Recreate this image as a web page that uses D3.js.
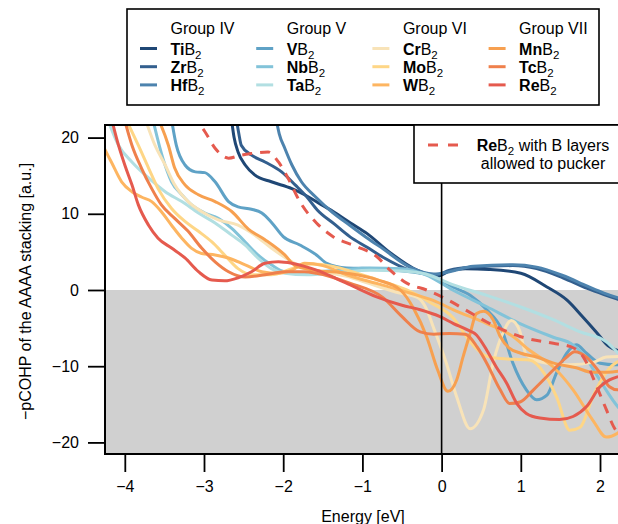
<!DOCTYPE html>
<html>
<head>
<meta charset="utf-8">
<script src="https://cdn.jsdelivr.net/npm/d3@7"></script>
<style>
  body { margin: 0; background: #fff; }
  svg text { font-family: "Liberation Sans", Arial, Helvetica, sans-serif; }
</style>
</head>
<body>
<svg width="618" height="524"></svg>
<script>
// tick labels
var xTicks = [-4, -3, -2, -1, 0, 1, 2];
var yTicks = [-20, -10, 0, 10, 20];

// legend: groups and compounds (element part shown bold)
var groups = ["Group IV", "Group V", "Group VI", "Group VII"];
var elements = [["Ti", "Zr", "Hf"], ["V", "Nb", "Ta"], ["Cr", "Mo", "W"], ["Mn", "Tc", "Re"]];
var colors = [["#1f4775", "#335f8e", "#4d83ae"], ["#5fa2c6", "#82c3d9", "#b2dfe2"],
              ["#f8e3b8", "#fed686", "#fdb561"], ["#f7a050", "#ef804c", "#e55a4e"]];

// -pCOHP curves, [energy eV, value]
var TiB2 = [[-2.66,23],[-2.62,20],[-2.57,18.1],[-2.48,16.4],[-2.36,15.1],[-2.15,14.2],[-1.89,13.3],[-1.73,12.5],[-1.55,11.4],[-1.37,10.3],[-1.15,8.8],[-0.94,7.4],[-0.65,4.9],[-0.31,2.6],[-0.05,1.8],[0.1,2.5],[0.3,2.8],[0.6,2.7],[1.0,2.2],[1.33,0.4],[1.58,-1.3],[1.78,-3.5],[1.96,-5.6],[2.1,-7.3],[2.25,-8.0],[2.4,-8.2]];
var ZrB2 = [[-2.6,23],[-2.56,20.5],[-2.53,19],[-2.4,17.7],[-2.23,16.8],[-2.02,15.5],[-1.85,13.8],[-1.7,12.2],[-1.57,10.5],[-1.36,8.7],[-1.16,7.0],[-0.94,5.6],[-0.74,4.3],[-0.4,2.6],[-0.06,2.0],[0.1,2.6],[0.4,3.0],[0.9,3.2],[1.2,2.8],[1.53,1.6],[1.84,0.2],[2.05,-0.6],[2.22,-1.2],[2.4,-1.8]];
var HfB2 = [[-2.1,23],[-2.05,20.5],[-1.98,18.6],[-1.89,16.4],[-1.77,14.2],[-1.6,12.3],[-1.38,10.2],[-1.16,8.5],[-0.95,6.9],[-0.74,5.4],[-0.4,3.0],[-0.1,2.1],[0.1,2.4],[0.4,3.1],[0.9,3.3],[1.2,3.0],[1.53,1.9],[1.84,0.5],[2.05,-0.4],[2.22,-1.0],[2.4,-1.5]];
var VB2 = [[-3.42,23],[-3.35,19.0],[-3.24,16.4],[-3.11,15.5],[-2.99,15.4],[-2.86,14.2],[-2.69,11.6],[-2.57,10.9],[-2.4,10.6],[-2.27,10.1],[-2.15,8.9],[-2.0,7.0],[-1.79,5.9],[-1.58,4.6],[-1.45,3.5],[-1.2,2.9],[-0.8,2.8],[-0.4,2.4],[-0.1,1.8],[0.14,0.4],[0.36,-0.7],[0.57,-2.6],[0.76,-5.2],[0.9,-9.6],[1.07,-13.1],[1.2,-14.4],[1.33,-13.8],[1.45,-10.9],[1.58,-8.3],[1.7,-7.2],[1.83,-8.3],[2.0,-9.6],[2.2,-9.8],[2.4,-9.6]];
var NbB2 = [[-3.66,23],[-3.52,17.3],[-3.41,14.2],[-3.28,12.5],[-3.16,11.2],[-2.99,10.1],[-2.82,9.4],[-2.65,8.1],[-2.48,6.3],[-2.32,4.6],[-2.15,3.3],[-1.98,2.4],[-1.7,2.3],[-1.3,2.6],[-0.9,2.9],[-0.5,2.8],[-0.2,2.0],[0.14,0.0],[0.57,-2.2],[0.99,-4.4],[1.41,-6.2],[1.66,-7.2],[1.8,-8.6],[1.95,-11.0],[2.1,-13.5],[2.25,-15.6],[2.4,-16.5]];
var TaB2 = [[-4.22,22.5],[-4.08,19.0],[-3.91,16.8],[-3.7,14.7],[-3.49,12.9],[-3.28,11.6],[-3.07,10.1],[-2.86,8.8],[-2.65,7.2],[-2.48,5.9],[-2.32,4.2],[-2.15,2.8],[-1.98,2.2],[-1.7,2.0],[-1.3,2.3],[-0.9,2.6],[-0.5,2.5],[-0.2,2.1],[0.14,0.7],[0.57,-0.7],[0.99,-2.2],[1.41,-3.9],[1.75,-5.5],[2.08,-6.8],[2.25,-8.5],[2.4,-10]];
var CrB2 = [[-3.76,23],[-3.62,19.0],[-3.49,16.4],[-3.37,13.8],[-3.2,11.6],[-3.03,10.3],[-2.82,9.2],[-2.57,8.5],[-2.36,7.2],[-2.15,5.5],[-1.89,3.7],[-1.73,2.8],[-1.5,2.4],[-1.2,1.8],[-0.9,0.8],[-0.57,-0.3],[-0.3,-1.0],[-0.2,-2.3],[-0.1,-5.0],[0.06,-9.6],[0.19,-14],[0.36,-18.2],[0.53,-15.7],[0.65,-9.6],[0.78,-5.5],[0.88,-4.0],[0.98,-5.2],[1.07,-8.5],[1.33,-9.6],[1.62,-9.8],[1.91,-9.5],[2.08,-8.8],[2.3,-8.7]];
var MoB2 = [[-3.99,22.5],[-3.83,19],[-3.7,16],[-3.58,13.3],[-3.41,10.7],[-3.24,9.0],[-3.07,7.7],[-2.9,6.3],[-2.74,4.6],[-2.57,2.8],[-2.4,2.0],[-2.15,2.0],[-1.89,2.8],[-1.65,3.4],[-1.37,3.1],[-1.1,2.3],[-0.74,1.1],[-0.44,0.0],[-0.15,-1.6],[0.15,-3.7],[0.36,-6.8],[0.55,-8.6],[0.74,-9.0],[1.11,-9.2],[1.3,-11.0],[1.45,-14.0],[1.62,-18.4],[1.75,-18.0],[1.91,-14.0],[2.1,-10.5],[2.25,-9.3],[2.4,-9.0]];
var WB2 = [[-4.3,19.5],[-4.25,18.4],[-4.17,16.8],[-4.04,14.2],[-3.91,12.9],[-3.79,12.2],[-3.66,11.6],[-3.54,10.3],[-3.41,8.5],[-3.28,6.8],[-3.16,5.5],[-3.03,4.8],[-2.86,4.6],[-2.69,4.2],[-2.48,3.3],[-2.27,2.4],[-2.06,2.2],[-1.89,2.6],[-1.73,3.5],[-1.5,3.2],[-1.2,2.0],[-0.8,0.8],[-0.4,-0.4],[-0.1,-1.4],[0.15,-2.6],[0.57,-4.4],[0.9,-6.1],[1.11,-7.9],[1.41,-10.1],[1.66,-13.1],[1.91,-17.1],[2.08,-19.3],[2.22,-18.8],[2.4,-17]];
var MnB2 = [[-3.6,23],[-3.45,19],[-3.37,16],[-3.24,13.8],[-3.07,12.5],[-2.86,11.6],[-2.65,10.3],[-2.44,8.0],[-2.23,6.6],[-1.98,4.6],[-1.85,3.2],[-1.6,2.6],[-1.2,2.2],[-0.8,1.3],[-0.52,0],[-0.35,-2.5],[-0.19,-6.1],[-0.05,-10.5],[0.08,-13.3],[0.19,-11.8],[0.27,-8.8],[0.36,-5.7],[0.44,-3.1],[0.53,-2.8],[0.65,-3.9],[0.74,-6.1],[0.85,-7.6],[1.0,-8.3],[1.2,-8.8],[1.45,-9.7],[1.7,-10.2],[1.9,-10.8],[2.1,-10.8],[2.3,-10.5]];
var TcB2 = [[-4.02,23],[-3.91,19],[-3.79,16],[-3.66,13.3],[-3.54,11.2],[-3.37,9.4],[-3.2,7.7],[-3.03,5.5],[-2.86,3.7],[-2.69,2.4],[-2.48,1.7],[-2.23,2.0],[-1.98,2.4],[-1.73,2.4],[-1.58,2.2],[-1.16,0.9],[-0.74,-1.0],[-0.5,-3.5],[-0.27,-5.5],[-0.1,-5.8],[0.1,-5.7],[0.3,-5.8],[0.45,-7.5],[0.57,-9.6],[0.74,-13.1],[0.86,-14.9],[0.99,-14.7],[1.16,-13.1],[1.41,-10.5],[1.58,-8.8],[1.68,-8.1],[1.83,-8.8],[2.0,-10.9],[2.12,-12.7],[2.22,-13.1],[2.4,-12.5]];
var ReB2 = [[-4.18,23],[-4.08,19],[-4.0,16.4],[-3.91,13.8],[-3.83,11.2],[-3.7,8.5],[-3.58,6.8],[-3.41,5.5],[-3.24,4.2],[-3.07,2.4],[-2.9,1.3],[-2.74,1.2],[-2.57,1.6],[-2.4,2.4],[-2.23,3.5],[-2.06,3.7],[-1.89,3.5],[-1.73,3.1],[-1.58,2.6],[-1.33,1.5],[-1.16,0.7],[-0.82,-0.9],[-0.5,-2.0],[-0.27,-2.6],[-0.02,-3.5],[0.15,-4.4],[0.32,-5.2],[0.44,-5.9],[0.57,-7.9],[0.69,-10.1],[0.82,-12.2],[0.95,-14.9],[1.07,-16.2],[1.24,-16.8],[1.49,-17],[1.66,-16.6],[1.83,-15.3],[2.0,-12.7],[2.12,-11.8],[2.22,-11.4],[2.4,-11]];
var ReB2pucker = [[-3.15,23],[-2.99,20.8],[-2.86,18.6],[-2.69,17.3],[-2.53,17.7],[-2.4,17.9],[-2.19,18.1],[-2.06,16.8],[-1.94,14.7],[-1.79,11.6],[-1.58,8.8],[-1.37,7.0],[-1.07,5.7],[-0.82,4.4],[-0.65,2.6],[-0.44,0.9],[-0.19,0],[0.06,-1.2],[0.3,-2.6],[0.57,-4.2],[0.99,-6.1],[1.41,-7.0],[1.62,-7.4],[1.79,-8.8],[1.96,-12.7],[2.08,-15.7],[2.17,-17.9],[2.3,-19.5]];

var series = [[TiB2, ZrB2, HfB2], [VB2, NbB2, TaB2], [CrB2, MoB2, WB2], [MnB2, TcB2, ReB2]];

var plotLeft = 105, plotRight = 621, plotTop = 125, plotBottom = 454;

var x = d3.scaleLinear().domain([-4.25, 2.265]).range([plotLeft, plotRight]);
var y = d3.scaleLinear().domain([-21.52, 21.65]).range([plotBottom, plotTop]);

var svg = d3.select("svg");

svg.append("defs").append("clipPath").attr("id", "plotclip")
  .append("rect").attr("x", plotLeft).attr("y", plotTop)
  .attr("width", plotRight - plotLeft).attr("height", plotBottom - plotTop);

// grey area below zero
svg.append("rect")
  .attr("x", plotLeft).attr("y", y(0))
  .attr("width", plotRight - plotLeft).attr("height", plotBottom - y(0))
  .attr("fill", "#d0d0d0");

var line = d3.line()
  .x(function(d){ return x(d[0]); })
  .y(function(d){ return y(d[1]); })
  .curve(d3.curveMonotoneX);

var plot = svg.append("g").attr("clip-path", "url(#plotclip)");

series.forEach(function(grp, gi){
  grp.forEach(function(s, si){
    plot.append("path")
      .attr("d", line(s))
      .attr("fill", "none")
      .attr("stroke", colors[gi][si])
      .attr("stroke-width", 3)
      .attr("stroke-linejoin", "round");
  });
});

plot.append("path")
  .attr("d", line(ReB2pucker))
  .attr("fill", "none")
  .attr("stroke", "#e55a4e")
  .attr("stroke-width", 3)
  .attr("stroke-dasharray", "10,8");

// Fermi level
svg.append("line")
  .attr("x1", x(0)).attr("x2", x(0))
  .attr("y1", plotTop).attr("y2", plotBottom)
  .attr("stroke", "#000").attr("stroke-width", 1.6);

// axes
var xAxis = svg.append("g")
  .attr("transform", "translate(0," + plotBottom + ")")
  .call(d3.axisBottom(x).tickValues(xTicks).tickFormat(d3.format("d")).tickSize(18).tickPadding(9));
var yAxis = svg.append("g")
  .attr("transform", "translate(" + plotLeft + ",0)")
  .call(d3.axisLeft(y).tickValues(yTicks).tickFormat(d3.format("d")).tickSize(17).tickPadding(9));

[xAxis, yAxis].forEach(function(a){
  a.select(".domain").remove();
  a.selectAll(".tick line").attr("stroke", "#000").attr("stroke-width", 1.8);
  a.selectAll(".tick text")
    .attr("fill", "#000")
    .style("font-size", "16px")
    .style("font-family", "'Liberation Sans', Arial, sans-serif");
});

// box
svg.append("rect")
  .attr("x", plotLeft).attr("y", plotTop)
  .attr("width", plotRight - plotLeft).attr("height", plotBottom - plotTop)
  .attr("fill", "none").attr("stroke", "#000").attr("stroke-width", 2);

svg.append("text")
  .attr("x", (plotLeft + plotRight) / 2).attr("y", 522)
  .attr("text-anchor", "middle")
  .style("font-size", "16px")
  .text("Energy [eV]");

svg.append("text")
  .attr("transform", "translate(31," + ((plotTop + plotBottom) / 2 + 2) + ") rotate(-90)")
  .attr("text-anchor", "middle")
  .style("font-size", "16px")
  .text("\u2212pCOHP of the AAAA stacking [a.u.]");

// inset legend for puckered ReB2
var inset = svg.append("g");
inset.append("rect")
  .attr("x", 414).attr("y", plotTop).attr("width", 230).attr("height", 58)
  .attr("fill", "#fff").attr("stroke", "#000").attr("stroke-width", 1.6);
inset.append("line")
  .attr("x1", 428).attr("x2", 462).attr("y1", 145).attr("y2", 145)
  .attr("stroke", "#e55a4e").attr("stroke-width", 3)
  .attr("stroke-dasharray", "10,10");
var t1 = inset.append("text").attr("x", 543).attr("y", 151)
  .attr("text-anchor", "middle").style("font-size", "16px");
t1.append("tspan").style("font-weight", "bold").text("Re");
t1.append("tspan").text("B");
t1.append("tspan").attr("dy", 4).style("font-size", "11.5px").text("2");
t1.append("tspan").attr("dy", -4).text(" with B layers");
inset.append("text").attr("x", 543).attr("y", 169)
  .attr("text-anchor", "middle").style("font-size", "16px")
  .text("allowed to pucker");

// top legend
var leg = svg.append("g");
leg.append("rect")
  .attr("x", 127).attr("y", 9).attr("width", 472).attr("height", 96)
  .attr("fill", "#fff").attr("stroke", "#000").attr("stroke-width", 1.6);

groups.forEach(function(g, gi){
  var cx = 140 + gi * 116.2;
  leg.append("text")
    .attr("x", cx + 30.5).attr("y", 33.5)
    .style("font-size", "16px")
    .text(g);
  elements[gi].forEach(function(el, si){
    var yy = 55 + si * 18.2;
    leg.append("line")
      .attr("x1", cx).attr("x2", cx + 17)
      .attr("y1", yy - 6.5).attr("y2", yy - 6.5)
      .attr("stroke", colors[gi][si]).attr("stroke-width", 3);
    var t = leg.append("text").attr("x", cx + 30.5).attr("y", yy)
      .style("font-size", "16px");
    t.append("tspan").style("font-weight", "bold").text(el);
    t.append("tspan").text("B");
    t.append("tspan").attr("dy", 4).style("font-size", "11.5px").text("2");
  });
});
</script>
</body>
</html>
